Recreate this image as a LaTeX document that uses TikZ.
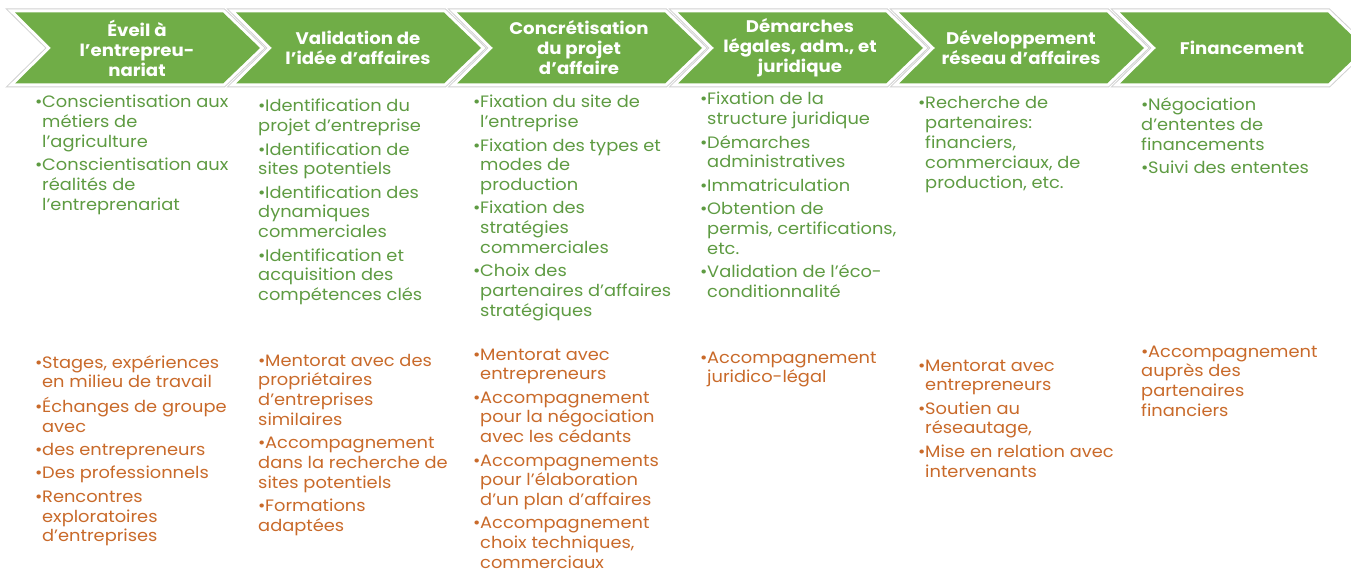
\documentclass[tikz,border=0pt]{standalone}
\usepackage{fontspec}
\setmainfont{Poppins}[FakeStretch=1.08]
\definecolor{chevgreen}{HTML}{70AD47}
\definecolor{txtgreen}{HTML}{5E9B42}
\definecolor{txtorange}{HTML}{C96A2A}
\newcommand\bul{\makebox[7pt][l]{•}}
\newcommand\ind{\hspace*{7pt}}
\newcommand\lst[1]{\begin{tabular}[t]{@{}l@{}}#1\end{tabular}}
\begin{document}
\begin{tikzpicture}[x=1pt,y=-1pt,
  head/.style={text=white,font=\fontsize{16.8}{20}\selectfont\bfseries,align=center,inner sep=0pt},
  glist/.style={text=txtgreen,font=\fontsize{16.5}{19.8}\selectfont,inner sep=0pt,anchor=base west},
  olist/.style={text=txtorange,font=\fontsize{16.5}{19.8}\selectfont,inner sep=0pt,anchor=base west}]
\useasboundingbox (0,0) rectangle (1351,569);
\fill[white] (0,0) rectangle (1351,569);
\foreach \i in {0,...,5}{
  \pgfmathsetmacro\xl{15+221*\i}
  \draw[black!18,line width=8pt,line join=miter]
    (\xl,12.5) -- (\xl+208,12.5) -- (\xl+245,48) -- (\xl+208,83.5) -- (\xl,83.5) -- (\xl+36,48) -- cycle;
}
\foreach \i in {0,...,5}{
  \pgfmathsetmacro\xl{15+221*\i}
  \draw[white,line width=6pt,line join=miter]
    (\xl,12.5) -- (\xl+208,12.5) -- (\xl+245,48) -- (\xl+208,83.5) -- (\xl,83.5) -- (\xl+36,48) -- cycle;
}
\foreach \i in {0,...,5}{
  \pgfmathsetmacro\xl{15+221*\i}
  \fill[chevgreen]
    (\xl,12.5) -- (\xl+208,12.5) -- (\xl+245,48) -- (\xl+208,83.5) -- (\xl,83.5) -- (\xl+36,48) -- cycle;
}
% headers
\node[head] (h1) at (137,48) {Éveil à\\l’entrepreu-\\nariat};
\node[head] (h2) at (358,48) {Validation de\\l’idée d’affaires};
\node[head] (h3) at (579,48) {Concrétisation\\du projet\\d’affaire};
\node[head] (h4) at (800,48) {Démarches\\légales, adm., et\\juridique};
\node[head] (h5) at (1021,48) {Développement\\réseau d’affaires};
\node[head] (h6) at (1242,48) {Financement};
% green lists
\node[glist] (g1) at (35,108) {\lst{\bul Conscientisation aux\\\ind métiers de\\\ind l’agriculture\\[3.5pt]\bul Conscientisation aux\\\ind réalités de\\\ind l’entreprenariat}};
\node[glist] (g2) at (258,112) {\lst{\bul Identification du\\projet d’entreprise\\[3.5pt]\bul Identification de\\sites potentiels\\[3.5pt]\bul Identification des\\dynamiques\\commerciales\\[3.5pt]\bul Identification et\\acquisition des\\compétences clés}};
\node[glist] (g3) at (473,108) {\lst{\bul Fixation du site de\\\ind l’entreprise\\[3.5pt]\bul Fixation des types et\\\ind modes de\\\ind production\\[3.5pt]\bul Fixation des\\\ind stratégies\\\ind commerciales\\[3.5pt]\bul Choix des\\\ind partenaires d’affaires\\\ind stratégiques}};
\node[glist] (g4) at (700,105) {\lst{\bul Fixation de la\\\ind structure juridique\\[3.5pt]\bul Démarches\\\ind administratives\\[3.5pt]\bul Immatriculation\\[3.5pt]\bul Obtention de\\\ind permis, certifications,\\\ind etc.\\[3.5pt]\bul Validation de l’éco-\\\ind conditionnalité}};
\node[glist] (g5) at (918,109) {\lst{\bul Recherche de\\\ind partenaires:\\\ind financiers,\\\ind commerciaux, de\\\ind production, etc.}};
\node[glist] (g6) at (1141,111) {\lst{\bul Négociation\\d'ententes de\\financements\\[3.5pt]\bul Suivi des ententes}};
% orange lists
\node[olist] (o1) at (35,368) {\lst{\bul Stages, expériences\\\ind en milieu de travail\\[3.5pt]\bul Échanges de groupe\\\ind avec\\[3.5pt]\bul des entrepreneurs\\[3.5pt]\bul Des professionnels\\[3.5pt]\bul Rencontres\\\ind exploratoires\\\ind d’entreprises}};
\node[olist] (o2) at (258,366) {\lst{\bul Mentorat avec des\\propriétaires\\d’entreprises\\similaires\\[3.5pt]\bul Accompagnement\\dans la recherche de\\sites potentiels\\[3.5pt]\bul Formations\\adaptées}};
\node[olist] (o3) at (473,360) {\lst{\bul Mentorat avec\\\ind entrepreneurs\\[3.5pt]\bul Accompagnement\\\ind pour la négociation\\\ind avec les cédants\\[3.5pt]\bul Accompagnements\\\ind pour l’élaboration\\\ind d’un plan d’affaires\\[3.5pt]\bul Accompagnement\\\ind choix techniques,\\\ind commerciaux}};
\node[olist] (o4) at (700,363) {\lst{\bul Accompagnement\\\ind juridico-légal}};
\node[olist] (o5) at (918,371) {\lst{\bul Mentorat avec\\\ind entrepreneurs\\[3.5pt]\bul Soutien au\\\ind réseautage,\\[3.5pt]\bul Mise en relation avec\\\ind intervenants}};
\node[olist] (o6) at (1141,357) {\lst{\bul Accompagnement\\auprès des\\partenaires\\financiers}};
\end{tikzpicture}
\end{document}
